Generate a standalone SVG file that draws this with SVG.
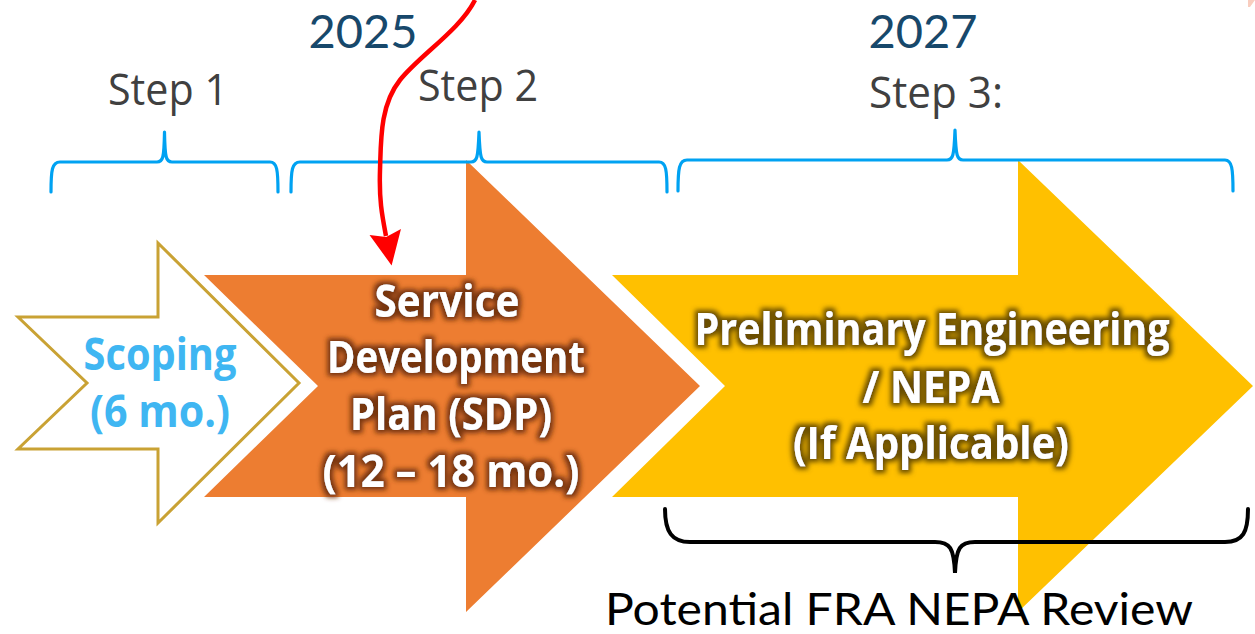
<svg xmlns="http://www.w3.org/2000/svg" width="1255" height="634" viewBox="0 0 1255 634">
  <style>
    .year { font-family: Lato, "Open Sans", sans-serif; font-size: 47px; fill: #17486B; text-anchor: middle; }
    .step { font-family: "Liberation Sans Narrow", "Open Sans", sans-serif; font-size: 44px; fill: #404040; text-anchor: middle; }
    .brace { fill: none; stroke: #00A2F2; stroke-width: 3.2; stroke-linecap: round; stroke-linejoin: round; }
    .lbl { font-family: "Liberation Sans Narrow", "Open Sans", sans-serif; font-weight: bold; font-size: 44px; text-anchor: middle; }
    .scope { fill: #3FB6F2; }
    .white { fill: #FFFFFF; }
    .note { font-family: Lato, "Open Sans", sans-serif; font-size: 44px; fill: #000000; }
  </style>
  <defs>
    <filter id="glowOrange" x="-20%" y="-40%" width="140%" height="180%">
      <feMorphology in="SourceAlpha" operator="dilate" radius="2.5" result="d"/>
      <feGaussianBlur in="d" stdDeviation="2.5" result="b"/>
      <feFlood flood-color="#763410" flood-opacity="1"/>
      <feComposite in2="b" operator="in" result="g"/>
      <feMerge><feMergeNode in="g"/><feMergeNode in="SourceGraphic"/></feMerge>
    </filter>
    <filter id="glowGold" x="-20%" y="-40%" width="140%" height="180%">
      <feMorphology in="SourceAlpha" operator="dilate" radius="2.5" result="d"/>
      <feGaussianBlur in="d" stdDeviation="2.5" result="b"/>
      <feFlood flood-color="#6A4E00" flood-opacity="1"/>
      <feComposite in2="b" operator="in" result="g"/>
      <feMerge><feMergeNode in="g"/><feMergeNode in="SourceGraphic"/></feMerge>
    </filter>
    <marker id="redHead" viewBox="-2 -18 40 36" markerWidth="40" markerHeight="36" refX="4" refY="0" orient="auto" markerUnits="userSpaceOnUse">
      <path d="M0,-16 L34,0 L0,16 L5,0 z" fill="#FF0000"/>
    </marker>
  </defs>

  <rect width="1255" height="634" fill="#FFFFFF"/>
  <polygon points="1248,0 1255,0 1250,7 1248,7" fill="#F9CDBF"/>

  <!-- timeline headings -->
  <g id="headings">
    <text class="year" x="363" y="48">2025</text>
    <text class="year" x="923" y="48">2027</text>
    <text class="step" x="168" y="105" textLength="120" lengthAdjust="spacingAndGlyphs">Step 1</text>
    <text class="step" x="478" y="101" textLength="120" lengthAdjust="spacingAndGlyphs">Step 2</text>
    <text class="step" x="936" y="108" textLength="134" lengthAdjust="spacingAndGlyphs">Step 3:</text>
  </g>

  <!-- step 1: scoping -->
  <g id="scoping">
    <polygon points="18,317 158,317 158,243 299,383 158,523 158,449 18,449 87,383" fill="#FFFFFF" stroke="#C9A234" stroke-width="3"/>
    <text class="lbl scope" x="160" y="370" textLength="153" lengthAdjust="spacingAndGlyphs">Scoping</text>
    <text class="lbl scope" x="160" y="427" textLength="140" lengthAdjust="spacingAndGlyphs">(6 mo.)</text>
  </g>

  <!-- step 2: service development plan -->
  <g id="sdp">
    <polygon points="204,275 466,275 466,160 700,386 466,612 466,497 204,497 318,386" fill="#ED7D31"/>
    <g filter="url(#glowOrange)">
      <text class="lbl white" x="447" y="317" textLength="145" lengthAdjust="spacingAndGlyphs">Service</text>
      <text class="lbl white" x="456" y="373" textLength="258" lengthAdjust="spacingAndGlyphs">Development</text>
      <text class="lbl white" x="451" y="430" textLength="202" lengthAdjust="spacingAndGlyphs">Plan (SDP)</text>
      <text class="lbl white" x="451" y="487" textLength="257" lengthAdjust="spacingAndGlyphs">(12 – 18 mo.)</text>
    </g>
  </g>

  <!-- step 3: preliminary engineering / NEPA -->
  <g id="pe-nepa">
    <polygon points="612,275 1018,275 1018,160 1253,386 1018,612 1018,497 612,497 725,386" fill="#FFC000"/>
    <g filter="url(#glowGold)">
      <text class="lbl white" x="932" y="345" textLength="475" lengthAdjust="spacingAndGlyphs">Preliminary Engineering</text>
      <text class="lbl white" x="931" y="403" textLength="137" lengthAdjust="spacingAndGlyphs">/ NEPA</text>
      <text class="lbl white" x="931" y="459" textLength="276" lengthAdjust="spacingAndGlyphs">(If Applicable)</text>
    </g>
  </g>

  <!-- brackets and pointer -->
  <g id="connectors">
    <path class="brace" d="M51,192 C51,170 52,162 60,162 L157,162 C163,162 164,158 164.5,132 C165,158 166,162 172,162 L270,162 C277,162 278,170 278,192"/>
    <path class="brace" d="M291,192 C291,170 292,162 300,162 L471,162 C477,162 478,158 479,132 C480,158 481,162 487,162 L659,162 C666,162 667,170 667,192"/>
    <path class="brace" d="M678,191 C678,169 679,160 687,160 L947,160 C953,160 954,156 955,130 C956,156 957,160 963,160 L1225,160 C1232,160 1233,169 1233,191"/>
    <path d="M665,509 C665,532 672,542 690,542 L935,542 C950,542 954,548 955,573 C956,548 960,542 975,542 L1225,542 C1243,542 1248,532 1248,509" fill="none" stroke="#000000" stroke-width="4" stroke-linecap="round"/>
    <path d="M475,0 C460,30 420,55 400,80 C380,105 381,140 380,170 C379,200 382,215 386,236" fill="none" stroke="#FF0000" stroke-width="4.5" marker-end="url(#redHead)"/>
  </g>

  <g id="review-label">
    <text class="note" x="605" y="625" textLength="588" lengthAdjust="spacingAndGlyphs">Potential FRA NEPA Review</text>
  </g>
</svg>
